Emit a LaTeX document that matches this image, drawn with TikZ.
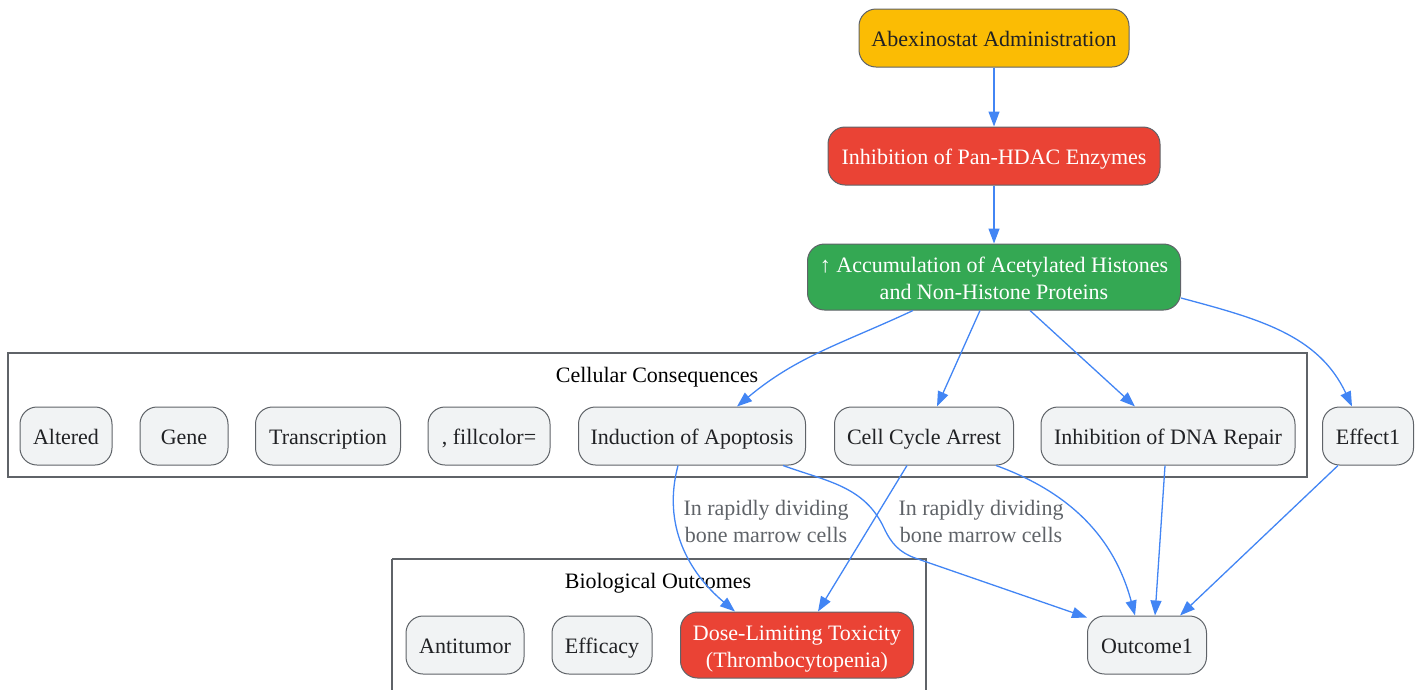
\documentclass[tikz,border=0pt]{standalone}
\usepackage{fontspec}
\setmainfont{Liberation Serif}
\usetikzlibrary{positioning,arrows.meta}

\definecolor{gorange}{HTML}{FBBC04}
\definecolor{gred}{HTML}{EA4335}
\definecolor{ggreen}{HTML}{34A853}
\definecolor{glight}{HTML}{F1F3F4}
\definecolor{gborder}{HTML}{5F6368}
\definecolor{gblue}{HTML}{4285F4}
\definecolor{gtext}{HTML}{202124}

\newcommand\boxstrut{\rule[-5pt]{0pt}{27pt}}

\tikzset{
  box/.style={draw=gborder, line width=1pt, rounded corners=17pt, fill=glight,
    text=gtext, align=center, minimum height=58pt, inner sep=0pt,
    font=\fontsize{22}{27}\selectfont, execute at begin node=\boxstrut},
  twoline/.style={text height=55pt, text depth=11pt},
  hot/.style={box, fill=gred, text=white},
  flow/.style={draw=gblue, line width=1.3pt, -{Triangle[length=15pt,width=11pt]}},
  clusterbox/.style={draw=gborder, line width=1.2pt},
  title/.style={font=\fontsize{22}{27}\selectfont, text=black},
  lbl/.style={font=\fontsize{22}{27}\selectfont, text=gborder, align=center}
}

\begin{document}
\begin{tikzpicture}[x=1pt,y=-1pt]
\useasboundingbox (0,0) rectangle (1423,689);

% clusters
\draw[clusterbox] (8,353) rectangle (1307,477);
\node[title] (celltitle) at (657,377) {Cellular Consequences};
\draw[clusterbox] (392,559) -- (392,700) (392,559) -- (926,559) -- (926,700);
\node[title] (biotitle) at (658,583) {Biological Outcomes};

% main chain
\node[box, fill=gorange, minimum width=270pt] (abex) at (994,38) {Abexinostat Administration};
\node[hot, minimum width=332pt] (hdac) at (994,156) {Inhibition of Pan-HDAC Enzymes};
\node[box, twoline, fill=ggreen, text=white, minimum width=373pt] (accum) at (994,277)
  {↑ Accumulation of Acetylated Histones\\and Non-Histone Proteins};

% cellular row
\node[box, minimum width=92pt] (altered) at (66,436) {Altered};
\node[box, minimum width=88pt] (gene) at (184,436) {Gene};
\node[box, minimum width=145pt] (transc) at (328,436) {Transcription};
\node[box, minimum width=122pt] (fillc) at (489,436) {, fillcolor=};
\node[box, minimum width=227pt] (apop) at (692,436) {Induction of Apoptosis};
\node[box, minimum width=179pt] (cycle) at (924,436) {Cell Cycle Arrest};
\node[box, minimum width=254pt] (dna) at (1168,436) {Inhibition of DNA Repair};
\node[box, minimum width=91pt] (effect) at (1368,436) {Effect1};

% outcomes
\node[box, minimum width=118pt] (antitumor) at (465,645) {Antitumor};
\node[box, minimum width=100pt] (efficacy) at (602,645) {Efficacy};
\node[hot, twoline, minimum width=233pt] (dose) at (797,645)
  {Dose-Limiting Toxicity\\(Thrombocytopenia)};
\node[box, minimum width=119pt] (outcome) at (1147,645) {Outcome1};

% edge labels
\node[lbl] (lblapop) at (766,521) {In rapidly dividing\\bone marrow cells};
\node[lbl] (lblcycle) at (981,521) {In rapidly dividing\\bone marrow cells};

% connectors
\draw[flow] (abex) -- (hdac);
\draw[flow] (hdac) -- (accum);
\draw[flow] ([xshift=-81pt]accum.south) to[out=-155,in=40] ([xshift=45pt]apop.north);
\draw[flow] ([xshift=-14pt]accum.south) -- ([xshift=13pt]cycle.north);
\draw[flow] ([xshift=36pt]accum.south) -- ([xshift=-33pt]dna.north);
\draw[flow] ([yshift=-21pt]accum.east) to[out=-15,in=115] ([xshift=-16pt]effect.north);
\draw[flow] ([xshift=-14pt]apop.south) to[out=-105,in=140] ([xshift=-62pt]dose.north);
\coordinate (bend) at (884,528);
\coordinate (bendb) at (915,558);
\draw[flow] ([xshift=91pt]apop.south) to[out=-20,in=115] (bend) to[out=-65,in=160] (bendb)
  -- ([xshift=-60pt,yshift=-2pt]outcome.north);
\draw[flow] ([xshift=-17pt]cycle.south) -- ([xshift=21pt]dose.north);
\draw[flow] ([xshift=72pt]cycle.south) to[out=-20,in=105] ([xshift=-12pt]outcome.north);
\draw[flow] ([xshift=-3pt]dna.south) -- ([xshift=8pt]outcome.north);
\draw[flow] ([xshift=-30pt]effect.south) -- ([xshift=33pt]outcome.north);
\end{tikzpicture}
\end{document}
